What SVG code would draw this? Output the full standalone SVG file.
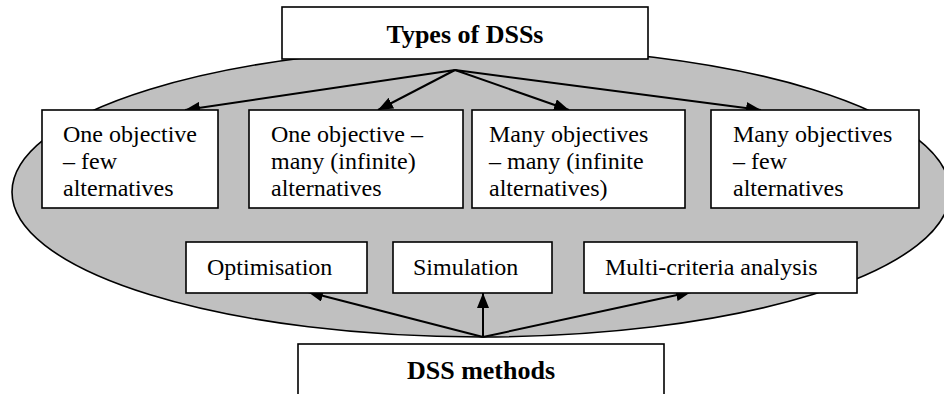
<svg xmlns="http://www.w3.org/2000/svg" width="944" height="394" viewBox="0 0 944 394">
<style>
.box{fill:#fff;stroke:#000;stroke-width:1.6}
.t{font-family:"Liberation Serif","Times New Roman",serif;font-size:24px;fill:#000}
.b{font-family:"Liberation Serif","Times New Roman",serif;font-size:26px;font-weight:bold;fill:#000}
.c{fill:none;stroke:#000;stroke-width:2}
</style>
<defs>
<marker id="ah" markerUnits="userSpaceOnUse" markerWidth="16" markerHeight="12" refX="15" refY="6" orient="auto">
<path d="M0,0 L15,6 L0,12 z" fill="#000"/>
</marker>
</defs>
<rect width="944" height="394" fill="#fff"/>
<ellipse id="area" cx="481" cy="192" rx="469" ry="145" fill="#c0c0c0" stroke="#000" stroke-width="1.6"/>
<g id="connectors">
<line class="c" x1="455" y1="70" x2="185" y2="110" marker-end="url(#ah)"/>
<line class="c" x1="455" y1="70" x2="378" y2="110" marker-end="url(#ah)"/>
<line class="c" x1="455" y1="70" x2="569" y2="110" marker-end="url(#ah)"/>
<line class="c" x1="455" y1="70" x2="761" y2="110" marker-end="url(#ah)"/>
<line class="c" x1="483" y1="337" x2="308" y2="292" marker-end="url(#ah)"/>
<line class="c" x1="483" y1="337" x2="483" y2="293" marker-end="url(#ah)"/>
<line class="c" x1="483" y1="337" x2="691" y2="292" marker-end="url(#ah)"/>
</g>
<g id="types">
<rect class="box" x="282" y="7" width="366" height="52"/>
<text class="b" x="465" y="43" text-anchor="middle">Types of DSSs</text>
</g>
<g id="type1">
<rect class="box" x="42" y="110" width="176" height="98"/>
<text class="t" x="63" y="142">One objective</text>
<text class="t" x="63" y="169">– few</text>
<text class="t" x="63" y="196">alternatives</text>
</g>
<g id="type2">
<rect class="box" x="249" y="110" width="214" height="98"/>
<text class="t" x="271" y="142">One objective –</text>
<text class="t" x="271" y="169">many (infinite)</text>
<text class="t" x="271" y="196">alternatives</text>
</g>
<g id="type3">
<rect class="box" x="472" y="110" width="213" height="98"/>
<text class="t" x="489" y="142">Many objectives</text>
<text class="t" x="489" y="169">– many (infinite</text>
<text class="t" x="489" y="196">alternatives)</text>
</g>
<g id="type4">
<rect class="box" x="711" y="110" width="208" height="98"/>
<text class="t" x="733" y="142">Many objectives</text>
<text class="t" x="733" y="169">– few</text>
<text class="t" x="733" y="196">alternatives</text>
</g>
<g id="optimisation">
<rect class="box" x="186" y="242" width="181" height="51"/>
<text class="t" x="207" y="275">Optimisation</text>
</g>
<g id="simulation">
<rect class="box" x="393" y="242" width="159" height="51"/>
<text class="t" x="413" y="275">Simulation</text>
</g>
<g id="multicriteria">
<rect class="box" x="584" y="242" width="273" height="51"/>
<text class="t" x="605" y="275">Multi-criteria analysis</text>
</g>
<g id="methods">
<rect class="box" x="298" y="344" width="366" height="60"/>
<text class="b" x="481" y="379" text-anchor="middle">DSS methods</text>
</g>
</svg>
